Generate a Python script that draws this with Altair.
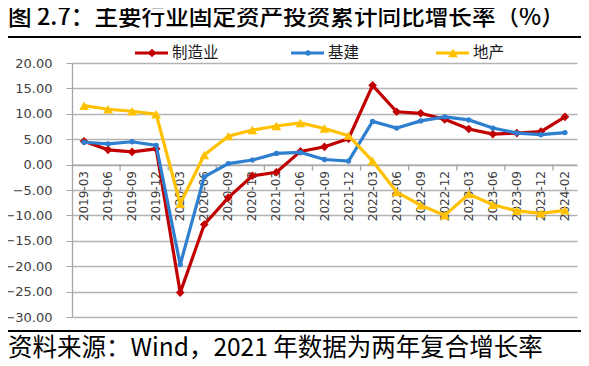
import altair as alt
import pandas as pd

categories = ["2019-03", "2019-06", "2019-09", "2019-12", "2020-03", "2020-06",
              "2020-09", "2020-12", "2021-03", "2021-06", "2021-09", "2021-12",
              "2022-03", "2022-06", "2022-09", "2022-12", "2023-03", "2023-06",
              "2023-09", "2023-12", "2024-02"]
series_names = ["制造业", "基建", "地产"]
manufacturing = [4.6, 2.9, 2.5, 3.1, -25.2, -11.8, -6.5, -2.2, -1.5, 2.6, 3.5, 5.1,
                 15.6, 10.4, 10.1, 8.9, 7.0, 6.0, 6.2, 6.5, 9.4]
infrastructure = [4.4, 4.1, 4.5, 3.8, -19.7, -2.4, 0.2, 0.9, 2.2, 2.4, 1.0, 0.7,
                  8.5, 7.2, 8.6, 9.4, 8.8, 7.2, 6.2, 5.9, 6.3]
real_estate = [11.6, 10.9, 10.5, 9.9, -7.7, 1.9, 5.6, 6.8, 7.6, 8.2, 7.1, 5.7,
               0.7, -5.4, -8.0, -10.0, -5.8, -7.9, -9.1, -9.6, -9.0]
y_ticks = [-30, -25, -20, -15, -10, -5, 0, 5, 10, 15, 20]

TITLE = "图 2.7：主要行业固定资产投资累计同比增长率（%）"
SOURCE = "资料来源：Wind，2021 年数据为两年复合增长率"

W, H = 505, 254
PAD = {"left": 64, "top": 55, "right": 4, "bottom": 49}
ZERO_Y = H * 20 / 50

colors = ["#C00000", "#2E7FCF", "#FFC000"]
shapes = ["diamond", "circle", "triangle-up"]
msizes = [75, 28, 95]
legend_x = [80, 236, 381]

rows = []
for name, vals in zip(series_names, [manufacturing, infrastructure, real_estate]):
    for c, v in zip(categories, vals):
        rows.append({"cat": c, "series": name, "value": v})
df = pd.DataFrame(rows)

x_scale = alt.Scale(domain=categories, paddingInner=0, paddingOuter=0)
y_scale = alt.Scale(domain=[-30, 20], nice=False, zero=False)

x_axis = alt.Axis(title=None, labelAngle=-90, ticks=False, offset=-(H - ZERO_Y),
                  domainColor="#a6a6a6", domainWidth=1.3, grid=False,
                  labelFont="DejaVu Sans", labelFontSize=12, labelColor="#404040",
                  labelPadding=6)
y_axis = alt.Axis(title=None, values=y_ticks, format=".2f", grid=True,
                  gridColor="#b3b3b3", gridWidth=1.3, domainColor="#a6a6a6",
                  domainWidth=1.3, tickColor="#a6a6a6", tickSize=6, labelPadding=14,
                  labelFont="DejaVu Sans", labelFontSize=13, labelColor="#404040")

X = alt.X("cat:N", scale=x_scale, axis=x_axis, sort=categories)
Y = alt.Y("value:Q", scale=y_scale, axis=y_axis)

layers = []
for name, col, shp, sz in zip(series_names, colors, shapes, msizes):
    d = alt.Chart(df).transform_filter(alt.datum.series == name)
    layers.append(d.mark_line(color=col, strokeWidth=3.2).encode(x=X, y=Y))
    layers.append(d.mark_point(shape=shp, size=sz, filled=True, color=col,
                               opacity=1).encode(x=X, y=Y))

tick_df = pd.DataFrame({"cat": categories[2::2]})
ticks = alt.Chart(tick_df).mark_rule(color="#a6a6a6", strokeWidth=1.3).encode(
    x=alt.X("cat:N", scale=x_scale, axis=x_axis, sort=categories, bandPosition=0),
    y=alt.value(ZERO_Y), y2=alt.value(ZERO_Y + 6))

deco = []
LEG_Y = -10
for name, col, shp, sz, lx in zip(series_names, colors, shapes, msizes, legend_x):
    ld = alt.Chart(pd.DataFrame({"series": [name]}))
    deco.append(ld.mark_rule(color=col, strokeWidth=3).encode(
        x=alt.value(lx - 17), x2=alt.value(lx + 16), y=alt.value(LEG_Y)))
    deco.append(ld.mark_point(shape=shp, size=sz, filled=True, color=col, opacity=1).encode(
        x=alt.value(lx), y=alt.value(LEG_Y)))
    deco.append(ld.mark_text(align="left", baseline="middle", fontSize=15.5,
                             font="Noto Sans CJK SC", color="#1a1a1a").encode(
        x=alt.value(lx + 20), y=alt.value(LEG_Y), text="series:N"))

one = pd.DataFrame({"k": [0]})
title = alt.Chart(pd.DataFrame({"t": [TITLE]})).mark_text(
    align="left", baseline="middle", fontSize=23.6, font="Noto Sans CJK SC",
    fontWeight=500, color="#000000").encode(
    x=alt.value(-PAD["left"]), y=alt.value(-45), text="t:N")
source = alt.Chart(pd.DataFrame({"t": [SOURCE]})).mark_text(
    align="left", baseline="middle", fontSize=24.5, font="Noto Sans CJK SC",
    color="#000000").encode(
    x=alt.value(-PAD["left"]), y=alt.value(286), text="t:N")
top_line = alt.Chart(one).mark_rule(color="#000000", strokeWidth=2).encode(
    x=alt.value(-PAD["left"]), x2=alt.value(W + PAD["right"]), y=alt.value(-26))
bottom_line = alt.Chart(one).mark_rule(color="#000000", strokeWidth=2).encode(
    x=alt.value(-PAD["left"]), x2=alt.value(W + PAD["right"]), y=alt.value(268))

chart = alt.layer(ticks, *layers, *deco, title, source, top_line, bottom_line).properties(
    width=W, height=H, padding=PAD,
    autosize=alt.AutoSizeParams(type="none")
).configure_view(stroke=None)

chart.save("out.html", embed_options={"renderer": "svg", "actions": False})
